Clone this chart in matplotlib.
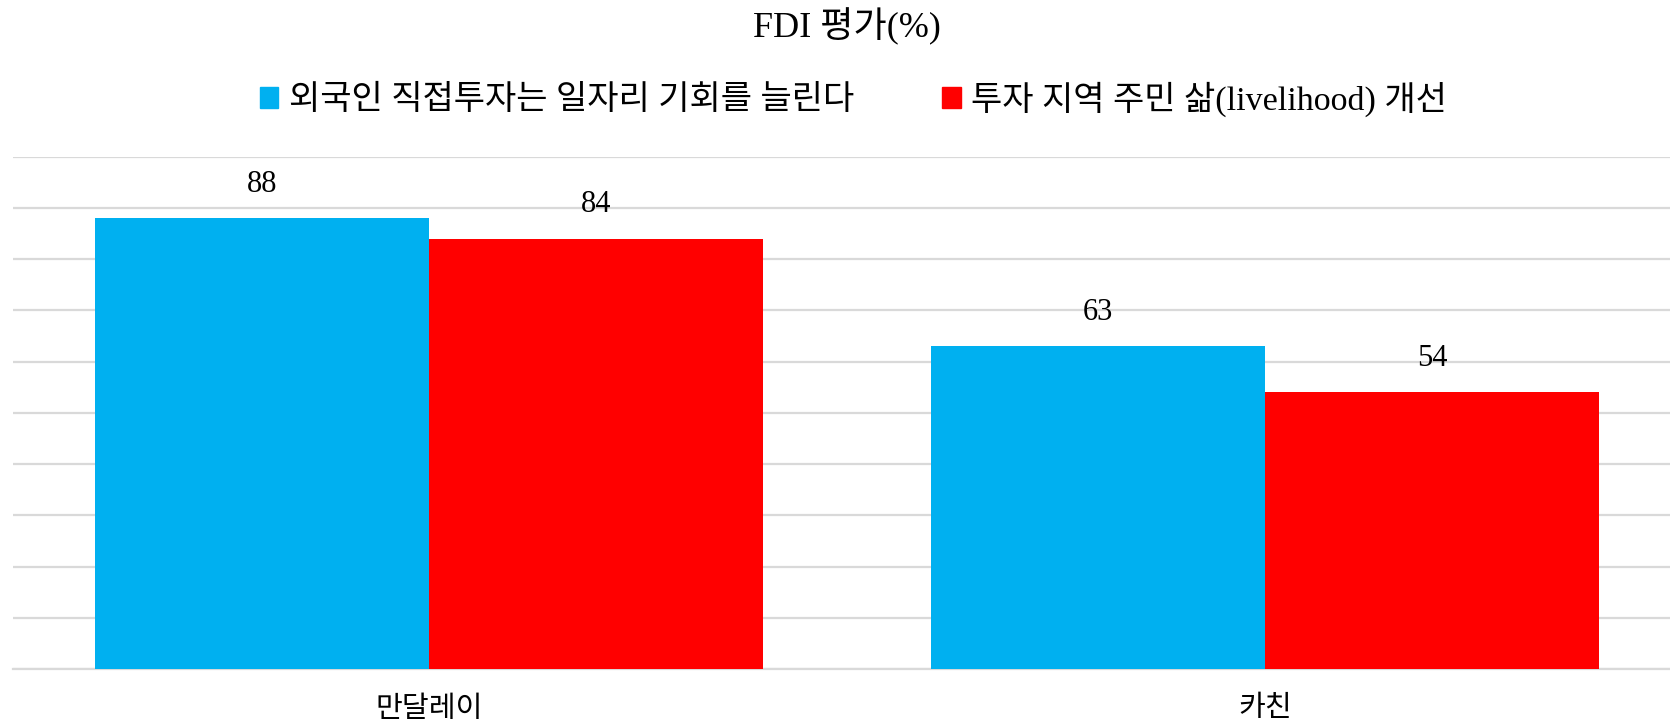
import numpy as np
import matplotlib
matplotlib.use('Agg')
import matplotlib.pyplot as plt
from matplotlib.patches import Patch

plt.rcParams['font.family'] = ['Liberation Serif', 'Noto Sans CJK KR']

# 데이터
categories = ['만달레이', '카친']
series_names = ['외국인 직접투자는 일자리 기회를 늘린다', '투자 지역 주민 삶(livelihood) 개선']
jobs = [88, 63]
livelihood = [84, 54]
colors = ['#00B0F0', '#FF0000']

fig = plt.figure(figsize=(16.7, 7.24), dpi=100)
ax = fig.add_axes([13 / 1670, 1 - 669 / 724, 1 - 13 / 1670, (669 - 156.6) / 724])

x = np.arange(len(categories))
width = 0.4

bars1 = ax.bar(x - width / 2, jobs, width, color=colors[0], zorder=3)
bars2 = ax.bar(x + width / 2, livelihood, width, color=colors[1], zorder=3)

for bars, vals in [(bars1, jobs), (bars2, livelihood)]:
    for bar, val in zip(bars, vals):
        ax.annotate(f'{val}', (bar.get_x() + bar.get_width() / 2, bar.get_height()),
                    xytext=(0, 14), textcoords='offset points',
                    ha='center', va='bottom', fontsize=22)

ax.set_ylim(0, 100)
ax.set_xlim(-0.4976, 1.4845)
ax.set_yticks(np.arange(0, 101, 10))
ax.yaxis.grid(True, color='#d9d9d9', linewidth=1.6, zorder=0)
ax.tick_params(axis='y', left=False, labelleft=False)
ax.tick_params(axis='x', bottom=False, labelsize=21, pad=16)
ax.set_xticks(x)
ax.set_xticklabels(categories)
for s in ['top', 'right', 'left']:
    ax.spines[s].set_visible(False)
ax.spines['bottom'].set_color('#d9d9d9')
ax.spines['bottom'].set_linewidth(1.6)

fig.text(0.507, 1 - 27 / 724, 'FDI 평가(%)', ha='center', va='center', fontsize=26)

handles = [Patch(color=c) for c in colors]
fig.legend(handles, series_names, loc='center', bbox_to_anchor=(0.511, 1 - 99 / 724),
           ncol=2, frameon=False, fontsize=24.5, handlelength=0.55, handleheight=0.55,
           handletextpad=0.3, columnspacing=2.6)

plt.savefig('out.png', dpi=100)
